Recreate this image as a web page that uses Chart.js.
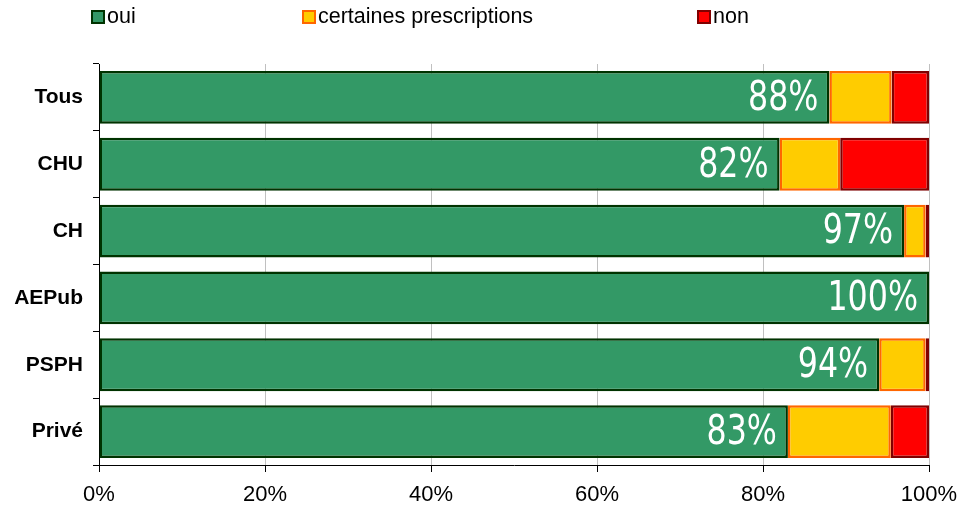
<!DOCTYPE html>
<html>
<head>
<meta charset="utf-8">
<script src="https://cdn.jsdelivr.net/npm/chart.js@4/dist/chart.umd.min.js"></script>
<style>
  body { margin: 0; background: #fff; }
  #wrap { position: relative; width: 959px; height: 508px; }
  #legend { position: absolute; top: 0; left: 0; width: 959px; height: 40px; font: 21.5px "Liberation Sans", Arial, sans-serif; color: #000; }
  .item { position: absolute; top: 4px; display: flex; align-items: center; }
  .box { width: 10px; height: 10px; border: 2px solid; margin-right: 2px; }
</style>
</head>
<body>
<div id="wrap">
  <canvas id="chart" width="959" height="508"></canvas>
  <div id="legend"></div>
</div>
<script>
// Chart data
const categories = ['Tous', 'CHU', 'CH', 'AEPub', 'PSPH', 'Privé'];
const oui = [88, 82, 97, 100, 94, 83];
const certaines = [7.5, 7.3, 2.6, 0, 5.6, 12.4];
const non = [4.5, 10.7, 0.4, 0, 0.4, 4.6];
const xTicks = [0, 20, 40, 60, 80, 100];

const series = [
    { label: 'oui', data: oui, bg: '#339966', border: '#003300', left: 91 },
    { label: 'certaines prescriptions', data: certaines, bg: '#FFCC00', border: '#FF6600', left: 302 },
    { label: 'non', data: non, bg: '#FF0000', border: '#800000', left: 697 }
];

// HTML legend, placed like the original
const legendEl = document.getElementById('legend');
series.forEach(s => {
    const it = document.createElement('div');
    it.className = 'item';
    it.style.left = s.left + 'px';
    it.innerHTML = `<span class="box" style="background:${s.bg};border-color:${s.border}"></span><span>${s.label}</span>`;
    legendEl.appendChild(it);
});

// white percentage labels at the end of the green bars (condensed look)
const barLabels = {
    id: 'barLabels',
    afterDatasetsDraw(chart) {
        const ctx = chart.ctx;
        const meta = chart.getDatasetMeta(0);
        meta.data.forEach((bar, i) => {
            ctx.save();
            ctx.translate(bar.x - 11, bar.y + 2);
            ctx.scale(0.88, 1);
            ctx.fillStyle = '#fff';
            ctx.font = '40px "DejaVu Sans Condensed", "DejaVu Sans", sans-serif';
            ctx.textAlign = 'right';
            ctx.textBaseline = 'middle';
            ctx.fillText(Math.round(oui[i]) + '%', 0, 0);
            ctx.restore();
        });
    }
};

new Chart(document.getElementById('chart'), {
    type: 'bar',
    data: {
        labels: categories,
        datasets: series.map(s => ({
            label: s.label, data: s.data,
            backgroundColor: s.bg, borderColor: s.border, borderWidth: 2.5,
            borderSkipped: false,
            barPercentage: 0.79, categoryPercentage: 1
        }))
    },
    options: {
        indexAxis: 'y',
        responsive: false,
        animation: false,
        layout: { padding: { top: 64, right: 30, left: 0, bottom: 0 } },
        plugins: { legend: { display: false }, tooltip: { enabled: false } },
        scales: {
            x: {
                stacked: true, min: 0, max: 100,
                afterBuildTicks: sc => { sc.ticks = xTicks.map(v => ({ value: v })); },
                afterFit: sc => { sc.height = 43; sc.paddingRight = 0; sc.paddingLeft = 0; },
                grid: { color: '#c0c0c0', tickColor: '#000', tickLength: 7, lineWidth: 1 },
                border: { color: '#000', width: 1 },
                ticks: {
                    color: '#000', padding: 10, maxRotation: 0,
                    font: { family: '"Liberation Sans", Arial', size: 22 },
                    callback: v => v + '%'
                }
            },
            y: {
                stacked: true,
                afterFit: sc => { sc.width = 99; },
                grid: { offset: true, drawOnChartArea: false, tickColor: '#000', tickLength: 6 },
                border: { color: '#000', width: 1 },
                ticks: {
                    color: '#000', padding: 10,
                    font: { family: '"Liberation Sans", Arial', size: 21, weight: 'bold' }
                }
            }
        }
    },
    plugins: [barLabels]
});
</script>
</body>
</html>
